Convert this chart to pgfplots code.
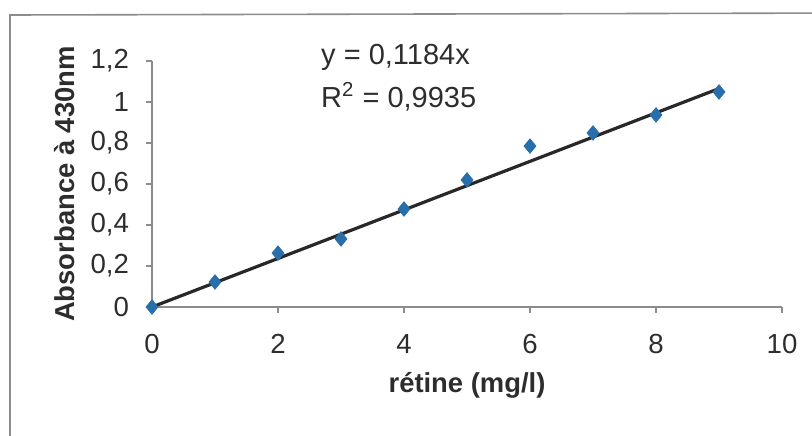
\documentclass[border=0pt]{standalone}
\usepackage{pgfplots}
\pgfplotsset{compat=1.18}
\usepackage{fontspec}
\setmainfont{Liberation Sans}
\definecolor{mkblue}{RGB}{40,110,170}
\definecolor{axgray}{RGB}{140,140,140}
\definecolor{txt}{RGB}{45,45,45}
\begin{document}
\begin{tikzpicture}
\useasboundingbox (0,0) rectangle (406pt,217.5pt);
\draw[axgray, line width=0.8pt] (5pt,-20pt) -- (5pt,210pt) -- (430pt,211pt);
\begin{axis}[
  at={(76pt,64pt)}, anchor=origin,
  width=315pt, height=123pt, scale only axis,
  xmin=0, xmax=10, ymin=0, ymax=1.2,
  axis x line*=bottom, axis y line*=left,
  axis line style={axgray, line width=0.6pt},
  xtick={0,2,4,6,8,10}, ytick={0,0.2,0.4,0.6,0.8,1,1.2},
  tick align=outside, major tick length=3pt,
  tick style={axgray, line width=0.6pt},
  /pgf/number format/use comma,
  /pgf/number format/assume math mode=true,
  ticklabel style={font=\fontsize{13.8}{15}\selectfont, text=txt},
  yticklabel style={xshift=-5pt},
  xticklabel style={yshift=-7pt},
  xlabel={rétine (mg/l)},
  ylabel={Absorbance à 430nm},
  xlabel style={font=\bfseries\fontsize{13.7}{15}\selectfont, text=txt, at={(axis description cs:0.5,0)}, anchor=center, yshift=-39pt},
  ylabel style={font=\bfseries\fontsize{13.7}{15}\selectfont, text=txt, at={(axis description cs:0,0.5)}, anchor=center, rotate=0, yshift=43.5pt},
  clip=false,
]
\addplot[only marks, mark=diamond*, mark size=3.6pt, mark options={fill=mkblue, draw=mkblue, xscale=1.1}] coordinates {
(0,0) (1,0.122) (2,0.263) (3,0.332) (4,0.478) (5,0.62) (6,0.785) (7,0.849) (8,0.937) (9,1.049)
};
\addplot[color={rgb,255:red,40;green,40;blue,40}, line width=1.6pt] coordinates {(0,0) (9,1.0656)};
\node[anchor=west, font=\fontsize{14.5}{16}\selectfont, text=txt, inner sep=0pt] at (axis cs:2.68,1.22) {y = 0,1184x};
\node[anchor=west, font=\fontsize{14.5}{16}\selectfont, text=txt, inner sep=0pt] at (axis cs:2.68,1.025) {R\textsuperscript{2} = 0,9935};
\end{axis}
\end{tikzpicture}
\end{document}
